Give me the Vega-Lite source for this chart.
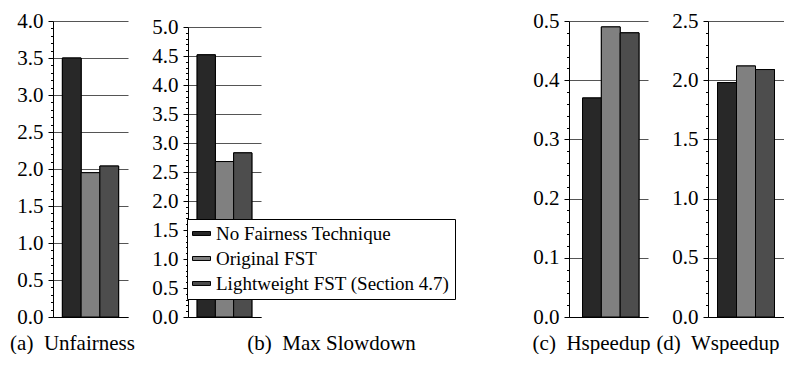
{
  "$schema": "https://vega.github.io/schema/vega-lite/v6.json",
  "padding": {"left": 10, "top": 10, "right": 0, "bottom": 0},
  "background": "white",
  "config": {
    "font": "Liberation Serif",
    "view": {"stroke": null},
    "axis": {
      "labelFont": "Liberation Serif",
      "labelFontSize": 21,
      "labelColor": "black",
      "tickColor": "black",
      "domainColor": "black",
      "gridColor": "#555555",
      "gridWidth": 1,
      "labelPadding": 5
    },
    "title": {
      "font": "Liberation Serif",
      "fontSize": 21,
      "fontWeight": "normal",
      "color": "black",
      "orient": "bottom",
      "frame": "group",
      "anchor": "middle",
      "offset": 6
    },
    "legend": {
      "labelFont": "Liberation Serif",
      "labelFontSize": 19,
      "labelColor": "black",
      "labelLimit": 400
    }
  },
  "data": {
    "values": [
      {"metric": "Unfairness", "technique": "No Fairness Technique", "value": 3.5},
      {"metric": "Unfairness", "technique": "Original FST", "value": 1.95},
      {"metric": "Unfairness", "technique": "Lightweight FST (Section 4.7)", "value": 2.04},
      {"metric": "Max Slowdown", "technique": "No Fairness Technique", "value": 4.52},
      {"metric": "Max Slowdown", "technique": "Original FST", "value": 2.68},
      {"metric": "Max Slowdown", "technique": "Lightweight FST (Section 4.7)", "value": 2.83},
      {"metric": "Hspeedup", "technique": "No Fairness Technique", "value": 0.37},
      {"metric": "Hspeedup", "technique": "Original FST", "value": 0.49},
      {"metric": "Hspeedup", "technique": "Lightweight FST (Section 4.7)", "value": 0.48},
      {"metric": "Wspeedup", "technique": "No Fairness Technique", "value": 1.98},
      {"metric": "Wspeedup", "technique": "Original FST", "value": 2.12},
      {"metric": "Wspeedup", "technique": "Lightweight FST (Section 4.7)", "value": 2.09}
    ]
  },
  "bounds": "flush",
  "spacing": 516,
  "hconcat": [
    {
      "bounds": "flush",
      "spacing": 60,
      "hconcat": [
        {
          "width": 75,
          "height": 296,
          "transform": [{"filter": "datum.metric === 'Unfairness'"}],
          "title": {"text": "(a)\u00a0 Unfairness", "dx": -18},
          "resolve": {"axis": {"y": "independent"}},
          "layer": [
            {
              "mark": {"type": "bar", "stroke": "black", "strokeWidth": 1},
              "encoding": {
                "x": {"field": "technique", "type": "nominal", "sort": ["No Fairness Technique", "Original FST", "Lightweight FST (Section 4.7)"], "scale": {"paddingInner": 0, "paddingOuter": 0.5}, "axis": {"labels": false, "ticks": false, "title": null, "domain": true}},
                "y": {"field": "value", "type": "quantitative", "scale": {"domain": [0, 4], "nice": false}, "axis": {"orient": "left", "values": [0, 0.5, 1, 1.5, 2, 2.5, 3, 3.5, 4], "format": ".1f", "grid": true, "tickSize": 5, "title": null}},
                "color": {"field": "technique", "type": "nominal", "sort": ["No Fairness Technique", "Original FST", "Lightweight FST (Section 4.7)"], "scale": {"domain": ["No Fairness Technique", "Original FST", "Lightweight FST (Section 4.7)"], "range": ["#282828", "#808080", "#4d4d4d"]},
                  "legend": {"orient": "none", "legendX": 134, "legendY": 198, "title": null, "direction": "vertical", "strokeColor": "black", "fillColor": "white", "padding": 5, "symbolType": "M-1,-0.22H1V0.22H-1Z", "symbolSize": 324, "symbolStrokeColor": "black", "symbolStrokeWidth": 1, "symbolOpacity": 1, "labelOffset": 5, "rowPadding": 5}}
              }
            },
            {
              "mark": {"type": "bar", "stroke": "black", "strokeWidth": 1},
              "encoding": {
                "x": {"field": "technique", "type": "nominal", "sort": ["No Fairness Technique", "Original FST", "Lightweight FST (Section 4.7)"]},
                "y": {"field": "value", "type": "quantitative", "axis": {"orient": "left", "values": [0.1, 0.2, 0.3, 0.4, 0.6, 0.7, 0.8, 0.9, 1.1, 1.2, 1.3, 1.4, 1.6, 1.7, 1.8, 1.9, 2.1, 2.2, 2.3, 2.4, 2.6, 2.7, 2.8, 2.9, 3.1, 3.2, 3.3, 3.4, 3.6, 3.7, 3.8, 3.9], "labels": false, "grid": false, "domain": false, "tickSize": 2.5, "title": null}},
                "color": {"field": "technique", "type": "nominal"}
              }
            }
          ]
        },
        {
          "width": 73,
          "height": 296,
          "transform": [{"filter": "datum.metric === 'Max Slowdown'"}],
          "title": {"text": "(b)\u00a0 Max Slowdown", "dx": 107},
          "resolve": {"axis": {"y": "independent"}},
          "layer": [
            {
              "mark": {"type": "bar", "stroke": "black", "strokeWidth": 1},
              "encoding": {
                "x": {"field": "technique", "type": "nominal", "sort": ["No Fairness Technique", "Original FST", "Lightweight FST (Section 4.7)"], "scale": {"paddingInner": 0, "paddingOuter": 0.5}, "axis": {"labels": false, "ticks": false, "title": null, "domain": true}},
                "y": {"field": "value", "type": "quantitative", "scale": {"domain": [0, 5], "nice": false, "range": [296, 6]}, "axis": {"orient": "left", "values": [0, 0.5, 1, 1.5, 2, 2.5, 3, 3.5, 4, 4.5, 5], "format": ".1f", "grid": true, "tickSize": 5, "title": null}},
                "color": {"field": "technique", "type": "nominal"}
              }
            },
            {
              "mark": {"type": "bar", "stroke": "black", "strokeWidth": 1},
              "encoding": {
                "x": {"field": "technique", "type": "nominal", "sort": ["No Fairness Technique", "Original FST", "Lightweight FST (Section 4.7)"]},
                "y": {"field": "value", "type": "quantitative", "axis": {"orient": "left", "values": [0.1, 0.2, 0.3, 0.4, 0.6, 0.7, 0.8, 0.9, 1.1, 1.2, 1.3, 1.4, 1.6, 1.7, 1.8, 1.9, 2.1, 2.2, 2.3, 2.4, 2.6, 2.7, 2.8, 2.9, 3.1, 3.2, 3.3, 3.4, 3.6, 3.7, 3.8, 3.9, 4.1, 4.2, 4.3, 4.4, 4.6, 4.7, 4.8, 4.9], "labels": false, "grid": false, "domain": false, "tickSize": 2.5, "title": null}},
                "color": {"field": "technique", "type": "nominal"}
              }
            }
          ]
        }
      ]
    },
    {
      "bounds": "flush",
      "spacing": 60,
      "hconcat": [
        {
          "width": 79,
          "height": 296,
          "transform": [{"filter": "datum.metric === 'Hspeedup'"}],
          "title": {"text": "(c)\u00a0 Hspeedup", "dx": -17},
          "resolve": {"axis": {"y": "independent"}},
          "layer": [
            {
              "mark": {"type": "bar", "stroke": "black", "strokeWidth": 1},
              "encoding": {
                "x": {"field": "technique", "type": "nominal", "sort": ["No Fairness Technique", "Original FST", "Lightweight FST (Section 4.7)"], "scale": {"paddingInner": 0, "paddingOuter": 0.6, "align": 0.6}, "axis": {"labels": false, "ticks": false, "title": null, "domain": true}},
                "y": {"field": "value", "type": "quantitative", "scale": {"domain": [0, 0.5], "nice": false}, "axis": {"orient": "left", "values": [0, 0.1, 0.2, 0.3, 0.4, 0.5], "format": ".1f", "grid": true, "tickSize": 5, "title": null}},
                "color": {"field": "technique", "type": "nominal"}
              }
            },
            {
              "mark": {"type": "bar", "stroke": "black", "strokeWidth": 1},
              "encoding": {
                "x": {"field": "technique", "type": "nominal", "sort": ["No Fairness Technique", "Original FST", "Lightweight FST (Section 4.7)"]},
                "y": {"field": "value", "type": "quantitative", "axis": {"orient": "left", "values": [0.02, 0.04, 0.06, 0.08, 0.12, 0.14, 0.16, 0.18, 0.22, 0.24, 0.26, 0.28, 0.32, 0.34, 0.36, 0.38, 0.42, 0.44, 0.46, 0.48], "labels": false, "grid": false, "domain": false, "tickSize": 2.5, "title": null}},
                "color": {"field": "technique", "type": "nominal"}
              }
            }
          ]
        },
        {
          "width": 76,
          "height": 296,
          "transform": [{"filter": "datum.metric === 'Wspeedup'"}],
          "title": {"text": "(d)\u00a0 Wspeedup", "dx": -28},
          "resolve": {"axis": {"y": "independent"}},
          "layer": [
            {
              "mark": {"type": "bar", "stroke": "black", "strokeWidth": 1},
              "encoding": {
                "x": {"field": "technique", "type": "nominal", "sort": ["No Fairness Technique", "Original FST", "Lightweight FST (Section 4.7)"], "scale": {"paddingInner": 0, "paddingOuter": 0.5}, "axis": {"labels": false, "ticks": false, "title": null, "domain": true}},
                "y": {"field": "value", "type": "quantitative", "scale": {"domain": [0, 2.5], "nice": false}, "axis": {"orient": "left", "values": [0, 0.5, 1, 1.5, 2, 2.5], "format": ".1f", "grid": true, "tickSize": 5, "title": null}},
                "color": {"field": "technique", "type": "nominal"}
              }
            },
            {
              "mark": {"type": "bar", "stroke": "black", "strokeWidth": 1},
              "encoding": {
                "x": {"field": "technique", "type": "nominal", "sort": ["No Fairness Technique", "Original FST", "Lightweight FST (Section 4.7)"]},
                "y": {"field": "value", "type": "quantitative", "axis": {"orient": "left", "values": [0.1, 0.2, 0.3, 0.4, 0.6, 0.7, 0.8, 0.9, 1.1, 1.2, 1.3, 1.4, 1.6, 1.7, 1.8, 1.9, 2.1, 2.2, 2.3, 2.4], "labels": false, "grid": false, "domain": false, "tickSize": 2.5, "title": null}},
                "color": {"field": "technique", "type": "nominal"}
              }
            }
          ]
        }
      ]
    }
  ]
}
